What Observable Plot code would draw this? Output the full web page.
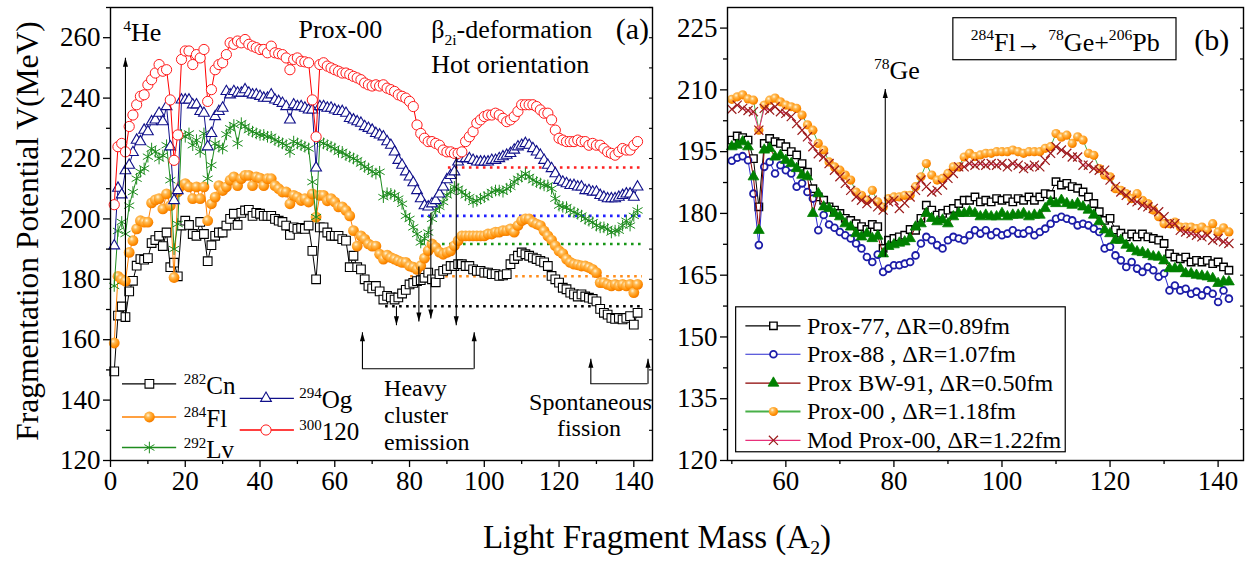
<!DOCTYPE html>
<html>
<head>
<meta charset="utf-8">
<script src="https://cdn.jsdelivr.net/npm/d3@7"></script>
<script src="https://cdn.jsdelivr.net/npm/@observablehq/plot@0.6"></script>
<style>
html,body{margin:0;padding:0;background:#fff;}
#chart{position:relative;width:1250px;height:561px;overflow:hidden;font-family:"Liberation Serif","Times New Roman",serif;color:#000;background:#fff;}
#pa,#pb{position:absolute;top:0;}
#pa{left:0;}
#pb{left:660px;}
#ytitle{position:absolute;left:-202px;top:214px;width:460px;height:34px;line-height:34px;font-size:31.5px;text-align:center;transform:rotate(-90deg);white-space:nowrap;}
#xtitle{position:absolute;left:0;width:1314px;top:520px;font-size:33px;line-height:34px;text-align:center;white-space:nowrap;}
#xtitle sub{font-size:0.6em;vertical-align:-0.3em;}
</style>
</head>
<body>
<div id="chart">
  <div id="pa"></div>
  <div id="pb"></div>
  <div id="ytitle">Fragmentation Potential V(MeV)</div>
  <div id="xtitle">Light Fragment Mass (A<sub>2</sub>)</div>
</div>
<script>
// ================= DATA =================
// Panel (a): light fragment mass A2 = 1..141
const massA = d3.range(1, 142);
const cn282 = [
149.5,168,171,167.5,176,179.5,184.5,186.7,186.5,187,
192,193,194.4,191,195.5,184,185.5,181,197.8,199.4,
198,195,194.4,199,195,186,191.3,194.4,195.5,195.5,
197.8,200,201.7,198,202,202.8,203,201,202,201.7,
201,201,201,200,199.4,199,197.8,194.7,197.2,196.7,
197,196.7,197.8,189.4,180,197.2,197.2,195.5,194.4,194.4,
194.4,193.3,192.8,184,187.8,184,183.3,180,177.8,177,
177.8,176,173.3,174.5,174,173.3,174,175.3,176.5,178.3,
178.8,179.4,179.7,180.5,182.2,180,179,181.7,182.8,183.3,
184.4,184.4,185,185,184.4,184.4,183.3,182.8,182.8,182.2,
182.2,181.7,181.7,181.1,181.3,181.7,185,186.7,187.8,188.9,
188.3,187.8,187.2,186.7,186.1,185.6,184.4,181.1,180,178.9,
177.2,176.7,175.6,175,174.3,175,174.3,173.9,173.5,172.7,
170.2,168.9,168.3,167.2,166.9,167.2,166.7,167.2,167.8,165,
168.9];
const fl284 = [
158.9,181,180,179.4,188.9,192.8,196.7,199.4,198.9,198.9,
205.3,206.3,206.7,203.3,208.3,204.4,180.6,208.9,211,211.7,
210.6,206.7,210.6,206.7,210.6,199.4,205,207.2,211,209.4,
210.6,212.8,213.9,211,213.3,214.4,214.4,211,213.9,213.5,
211,213.3,213.3,211,210,208.9,208.9,205,207.8,207.2,
206.1,206.7,205.6,208.3,200.6,207.8,207.8,206,206.7,205.6,
204,204,202.8,201,196.1,191,194.4,193.3,191.7,191,
191,188.3,186.7,188,187.2,186.7,186.1,185.6,185.6,184.4,
184,183.3,184.5,187,189.5,191.7,190.6,189,188.3,188.9,
189.4,191.1,192.8,194.4,194.4,194.4,194.4,194.4,194.4,194.4,
195,195,195.6,195.6,196.1,196.1,196.7,195.6,197.8,199.4,
200,200,198.9,198.3,197.8,196,194.4,193,191.1,189.4,
188.5,186.7,185.6,185,184.8,184.4,184.4,183.9,183.3,182.2,
178.9,178.9,178.3,177.8,178.3,177.8,178.3,177.8,178.3,175.6,
178.3];
const lv292 = [
177.8,196,199,195,204.4,208.9,213.3,215.6,216.7,220.6,
223.3,222.2,220,221,224.4,212.8,190,198.3,227.8,227.2,
228.3,224.4,226.1,222.2,228.3,213.3,217.8,225,223.9,223.3,
228,230,231.1,225,231.7,230.6,229.4,228.9,228.3,227.8,
227.8,227.2,227.2,226.1,225.6,225,224.4,222.2,225.6,225,
224.4,223.9,223.3,212.2,200.6,225.6,225,224.4,223.9,223.3,
222.2,222.2,221.1,220.6,220,219.4,218.3,217.2,216.7,215.6,
215,215.6,207.2,208.5,208.3,207.8,206.7,205,201,200,
197.2,195,192.2,193.5,195.5,200,202.8,204,205.6,207.8,
209,210.6,210,208.9,207.8,207.2,205.6,206,206.7,207.2,
208,208.9,209.4,209.4,209,210,210.6,212.2,213.3,214,
215,213.9,212.8,212.2,211.7,211.1,211.1,210,206.7,204.4,
204,203.9,202.8,202.2,201.7,201.1,200,199.4,198.9,197.8,
197.2,197.2,196.7,195.5,196.1,196.1,197.8,199.4,197.8,201,
202.8];
const og294 = [
191.1,210.2,208,216,217.8,222,226.1,225.6,229.4,228.9,
232.2,232.8,235,232.2,237.2,223.9,206.1,209.4,239.4,239.4,
239.4,237.8,237.8,235.6,235,223.9,228.3,233.9,235.6,236.7,
242.2,241.1,242.2,241.7,241.7,242.8,241.7,241.1,241.1,240.6,
240,240,241.1,239.4,238.9,238.3,237.2,232.8,237.8,237.2,
237.2,236.7,236.1,236.1,216.9,237.2,237.2,236.7,236.7,236.1,
235.6,235.6,235,233.3,232.8,232.2,231.7,230.6,230,229.4,
228.3,227.8,227.2,225.6,224.4,222.2,219.4,217.8,215.6,213.9,
212,209.4,206.7,204.4,204,205,206.1,208.3,210.6,213,
214.4,215.6,218.9,220,220,220,219.4,218.9,218.9,218.9,
218.9,219.4,219.4,220,220.6,221.1,221.7,222.8,223.9,224.4,
225,224.4,223.3,222.2,221.1,219.4,217.8,216.7,215,212.8,
212.2,211.7,211.1,211.1,210.6,210.6,209.4,209.4,208.9,208.9,
207.8,207.2,206.7,206.7,206.7,207.2,207.8,208.3,208.3,207.2,
210.6];
const e300 = [
204.7,223.9,225,222.2,230.6,234.4,237.8,240.6,241.1,244.4,
246.1,248.3,251.1,248.9,249.4,239.4,219.4,227.8,252.8,255.6,
255.6,251.1,254.4,253.3,256.1,238.9,242.8,249.4,251.1,251.7,
254.4,258.3,257.8,258.9,258.3,259.4,257.8,257.2,256.7,256.1,
256.1,255,257.2,255,254.7,254.4,253.3,249.4,252.8,253.3,
252.2,252,251.7,239.4,227.2,251.1,251.7,250.6,250,249.4,
248.9,248.3,248.3,247.8,247.2,246.7,246.1,245,244.4,244,
244.4,244,244.4,243.3,242.8,242.2,241.1,240.6,240,238.9,
237.2,231.1,228.3,226.7,225.6,225.6,225,224.4,222.8,222.2,
222.2,221.7,221.7,222.2,225.6,227.2,228.9,231.7,232.8,233.9,
234.4,234.4,235,234.4,233.3,232.2,232.8,233.9,235.6,237.8,
237.8,237.8,237.8,237.2,236.1,235,235,232.8,229.4,226.7,
226.1,225.6,225.6,225.6,226.1,225.6,225.6,224.4,225,224.4,
224.4,223.3,222.2,221.7,221.1,222.2,223.3,222.8,222.8,224.4,
225.6];
// minima reference levels (dotted lines) in panel (a): value, from A, to A
const minLevels = [
  {key:"e120", v:217.0, from:90.4, to:142.3},
  {key:"og",   v:201.0, from:83.2, to:142.3},
  {key:"lv",   v:191.7, from:83.2, to:142.3},
  {key:"fl",   v:181.0, from:80.3, to:142.3},
  {key:"cn",   v:171.1, from:73.6, to:142.3}
];

// Panel (b): 284Fl, light fragment mass A2 = 50..142
const massB = d3.range(50, 143);
const prox77 = [
197.8,198.8,198.4,197.8,193.3,181.6,197,198.2,197.4,197,
196.2,195,194.2,192.1,190,186,184,183.2,181.6,180.8,
180,178.8,178.3,177.5,176.8,176.1,177.3,176.8,171.5,173.5,
173.9,174.3,174.7,176.1,175.9,178.8,182,180.8,179.6,180,
180.8,181.2,182.4,183.2,183.2,184,182.8,183.2,182.8,183.6,
183.2,183.6,182.8,183.6,183.2,184,183.2,184,184.8,184.6,
187.7,186.9,187.3,186.5,186.1,185.2,184,182.4,180.4,178.3,
178.8,176,175.2,174.3,175,174.3,175,174.3,173.9,173.5,
172.7,170.2,169.4,169,169.4,168.2,168.6,168.2,168.6,167.8,
168.2,167,166.2];
const prox88 = [
192.8,193.5,193.9,192.9,184.8,172.3,191.3,192.5,189.7,191.7,
190.5,189.7,186.5,187.3,185.2,183.6,175.9,179.6,177.3,176.5,
175.5,174.7,173.9,172.7,171.5,169.4,168.2,170,165.8,166.6,
167.4,167.4,167.8,168.2,169.8,172.7,174.3,173.5,172.3,171.5,
173.5,174.3,173.9,173.5,174.7,175.9,175.1,175.9,174.7,175.5,
174.7,175.1,175.9,175.1,175.1,175.9,174.7,175.5,176.3,177.5,
178.7,179.2,178.7,178.3,177.1,177.5,177.1,176.3,175.5,171.5,
171.9,169.8,168.6,167,168.2,166.6,165.8,167,166.2,164.6,
165.4,161.3,162.5,161.3,161.7,160.5,161,160.1,161.3,160.5,
158.5,161.3,159.3];
const bw91 = [
196.2,196.6,197.4,196.2,188.9,175.9,195.4,195.8,193.7,194.1,
192.9,192.1,190.9,189.3,188.9,180,184.8,181.6,181.2,180,
179.2,177.5,176.7,175.1,174.3,175.1,173.9,174.5,170.2,172,
172.4,172.8,173.1,173.9,176.7,177.5,180,178.8,178,178.4,
177.5,179.2,180,180,180.4,180,179.2,179.6,179.2,179.2,
180,179.2,179.6,179.6,180,179.2,179.6,179.6,181.2,182.8,
182.4,183.2,182.4,182,182.4,181.6,180.8,179.6,178,176,
175.1,173.5,173.5,172.3,171.5,170.7,170.5,170,169.5,169.4,
168.5,166.6,166.6,166.6,165.4,165.4,165,164.8,164.6,164.2,
163,163.4,163.4];
const prox00 = [
207.7,208.3,208.8,207.8,207.5,200.2,206.3,207.5,208,207.1,
206.3,205.9,205.5,203.9,201.5,200.2,197,195.4,192.5,191.3,
190.5,189.3,188.1,185.2,184.4,183.2,185.6,182.8,181.5,183.6,
184,184,184.4,184.4,186.5,188.9,192.1,189.3,188.1,188.5,
189.7,191.3,191.3,193.7,194.6,193.8,194.2,194.6,194.6,195,
195,195,195.4,195,194.6,195,195,195,195.8,196.2,
199.4,198.5,199,197,198.6,197.8,194.6,194.1,190.9,189.3,
188.9,186,185.6,184.8,183.6,184.8,183.2,182.4,180.8,179.2,
177.5,177.5,177.9,176.7,176.7,176.7,176.3,176.7,175.9,177.5,
175.5,176.5,175.5];
const modProx00 = [
205.3,206.3,205.5,205,204.7,200.2,205.5,205.1,205.9,204.7,
204.3,203.5,201.8,200.2,198.6,196.2,194.5,193.7,192.1,190.5,
188.9,187.3,185.6,184,183.2,182.4,183.2,181.6,180.8,182.8,
183.2,181.2,182.5,184,185.6,188.1,186.5,185.2,185.6,186.9,
188.5,189.7,191.3,191.3,192.1,191.7,192.1,191.7,192.1,191.7,
192.1,191.3,192.1,191.7,190.9,191.3,191.7,191.3,192.9,194.6,
196.2,195.4,194.6,193.7,193.7,191.7,191.7,190.9,190.5,190.5,
188.1,186.5,185.2,184.4,183.2,182.8,182,181.6,181.2,180.4,
179.2,177.5,177.5,175.9,175.5,175.1,174.7,174.3,174.7,173.5,
173.9,173.1,172.7];

// Tick values
const ticksAx = [0,20,40,60,80,100,120,140];
const minorAx = [10,30,50,70,90,110,130];
const ticksAy = [120,140,160,180,200,220,240,260];
const minorAy = [130,150,170,190,210,230,250,270];
const ticksBx = [60,80,100,120,140];
const minorBx = [50,70,90,110,130];
const ticksBy = [120,135,150,165,180,195,210,225];
const minorBy = [127.5,142.5,157.5,172.5,187.5,202.5,217.5];

// Labels
const namesA = {cn:"^{282}Cn", fl:"^{284}Fl", lv:"^{292}Lv", og:"^{294}Og", e120:"^{300}120"};
const namesB = {p77:"Prox-77, ΔR=0.89fm", p88:"Prox-88 , ΔR=1.07fm", bw:"Prox BW-91, ΔR=0.50fm", p00:"Prox-00 , ΔR=1.18fm", mod:"Mod Prox-00, ΔR=1.22fm"};

// ================= STYLES & LAYOUT (not data) =================
const FONT = '"Liberation Serif","Times New Roman",serif';
const styleA = {
  cn:  {line:"#000000", symbol:"square",   r:4.9, fill:"#ffffff", stroke:"#000000", sw:1.1},
  fl:  {line:"#ff8000", symbol:"circle",   r:5.4, fill:"url(#ballA)", stroke:"none", sw:0},
  lv:  {line:"#1e8c1e", symbol:"asterisk", r:5.5, fill:"none", stroke:"#1e8c1e", sw:1},
  og:  {line:"#10108a", symbol:"triangle", r:4.0, fill:"#ffffff", stroke:"#10108a", sw:1.1},
  e120:{line:"#ff0000", symbol:"circle",   r:5.1, fill:"#ffffff", stroke:"#ff1a1a", sw:1}
};
const dotColor = {e120:"#ff2020", og:"#2020ff", lv:"#169616", fl:"#ff8c1a", cn:"#000000"};
const styleB = {
  p77:{line:"#000000", symbol:"square",   r:4.2, fill:"#ffffff", stroke:"#000000", sw:1.4},
  p88:{line:"#2a2ad0", symbol:"circle",   r:3.4, fill:"#ffffff", stroke:"#1c1ca8", sw:1.8},
  bw: {line:"#8b0000", symbol:"triangle", r:4.0, fill:"#008000", stroke:"#008000", sw:0.8},
  p00:{line:"#48b048", symbol:"circle",   r:4.6, fill:"url(#ballB)", stroke:"none", sw:0},
  mod:{line:"#e8307a", symbol:"times",    r:4.2, fill:"none", stroke:"#9b1b1b", sw:1.2}
};

// annotation layout (data coordinates)
const legendA = [
  {key:"cn", y:145.4, col:0}, {key:"fl", y:134.4, col:0}, {key:"lv", y:124.3, col:0},
  {key:"og", y:140.6, col:1}, {key:"e120", y:130.1, col:1}
];
const legendColsA = [{x1:3.2, x2:17.7, xm:10.4, tx:19.6}, {x1:34.7, x2:49.2, xm:41.6, tx:50.5}];
const arrowsA = [
  {x:4,     y1:166,   y2:253.4, up:true},
  {x:76.5,  y1:171.1, y2:164.8, up:false},
  {x:82.5,  y1:184.2, y2:166,   up:false},
  {x:85.7,  y1:202,   y2:167,   up:false},
  {x:92.5,  y1:220.6, y2:164.8, up:false},
  {x:67.4,  y1:150.4, y2:162.5, up:true},
  {x:97.3,  y1:150.4, y2:162.5, up:true},
  {x:128.5, y1:145.4, y2:153.7, up:true},
  {x:143.8, y1:145.4, y2:153.7, up:true}
];
const bracketsA = [{x1:67.4, x2:97.3, y:150.4}, {x1:128.5, x2:143.8, y:145.4}];
const textsA = [
  {x:3.4,   y:261.5, t:"^{4}He", a:"start", s:26},
  {x:61.5,  y:262.8, t:"Prox-00", a:"middle", s:26},
  {x:85.8,  y:262.8, t:"β_{2i}-deformation", a:"start", s:26},
  {x:85.8,  y:251.2, t:"Hot orientation", a:"start", s:26},
  {x:139.6, y:262.8, t:"(a)", a:"middle", s:30},
  {x:73.2,  y:143.8, t:"Heavy", a:"start", s:24},
  {x:73.2,  y:134.9, t:"cluster", a:"start", s:24},
  {x:73.2,  y:126.1, t:"emission", a:"start", s:24},
  {x:128.4, y:139.3, t:"Spontaneous", a:"middle", s:24},
  {x:128.0, y:130.5, t:"fission", a:"middle", s:24}
];
const legendB = [
  {key:"p77", y:152.7}, {key:"p88", y:145.8}, {key:"bw", y:138.8}, {key:"p00", y:131.9}, {key:"mod", y:124.9}
];
const legendBoxB = {x1:50.8, x2:111.8, y1:122.0, y2:157.2};
const legendColB = {x1:52.6, x2:62.8, xm:57.7, tx:63.9};
const titleBoxB = {x1:91, x2:132.3, y1:217.2, y2:227.4, tx:111.7, ty:222, t:"^{284}Fl→ ^{78}Ge+^{206}Pb"};
const arrowsB = [{x:78.4, y1:169.5, y2:210.2, up:true}];
const textsB = [
  {x:76.3,  y:214.6, t:"^{78}Ge", a:"start", s:26},
  {x:138.8, y:222.0, t:"(b)", a:"middle", s:30}
];

// ================= HELPERS =================
const pts = (xs, ys) => xs.map((x, i) => ({x, y: ys[i]}));
const arrowHead = {
  draw(ctx, size) {
    const h = Math.sqrt(size) * 1.7, w = h * 0.28;
    ctx.moveTo(0, 0); ctx.lineTo(-w, h); ctx.lineTo(w, h); ctx.closePath();
  }
};
function seriesMarks(data, st) {
  return [
    Plot.line(data, {x:"x", y:"y", stroke: st.line, strokeWidth: 1}),
    Plot.dot(data, {x:"x", y:"y", symbol: st.symbol, r: st.r, fill: st.fill, stroke: st.stroke, strokeWidth: st.sw})
  ];
}
function arrowMarks(arr) {
  return [
    Plot.link(arr, {x1:"x", x2:"x", y1:"y1", y2:"y2", stroke:"#000", strokeWidth:1.1}),
    Plot.dot(arr.filter(d => d.up), {x:"x", y:"y2", symbol: arrowHead, r:3, fill:"#000", stroke:"none"}),
    Plot.dot(arr.filter(d => !d.up), {x:"x", y:"y2", symbol: arrowHead, r:3, fill:"#000", stroke:"none", rotate:180})
  ];
}
function textMarks(arr) {
  return arr.map(d => Plot.text([d], {x:"x", y:"y", text:"t", textAnchor:d.a, fontSize:d.s, fill:"#000"}));
}
function axesMarks(tx, mx, ty, my) {
  return [
    Plot.axisX({ticks: tx, tickSize: 7, tickPadding: 3, fontSize: 27, label: null, strokeWidth: 1.3}),
    Plot.axisX({ticks: mx, tickSize: 4, tickFormat: () => "", label: null, strokeWidth: 1.3}),
    Plot.axisY({ticks: ty, tickSize: 7, tickPadding: 3, fontSize: 27, label: null, strokeWidth: 1.3}),
    Plot.axisY({ticks: my, tickSize: 4, tickFormat: () => "", label: null, strokeWidth: 1.3}),
    Plot.axisY({anchor: "right", ticks: ty.concat(my), tickSize: -4, tickFormat: () => "", label: null, strokeWidth: 1.1}),
    Plot.frame({stroke: "#000", strokeWidth: 1.4})
  ];
}
function addBall(svg, id) {
  const ns = "http://www.w3.org/2000/svg";
  const defs = document.createElementNS(ns, "defs");
  defs.innerHTML = `<radialGradient id="${id}" cx="0.38" cy="0.34" r="0.72">
    <stop offset="0" stop-color="#fff6dc"/><stop offset="0.28" stop-color="#ffbb55"/>
    <stop offset="0.75" stop-color="#ff8c00"/><stop offset="1" stop-color="#e87000"/></radialGradient>`;
  svg.insertBefore(defs, svg.firstChild);
}
function richify(svg) {
  const ns = "http://www.w3.org/2000/svg";
  for (const el of svg.querySelectorAll("text")) {
    const s = el.textContent;
    if (!/[\^_]\{/.test(s)) continue;
    const fs = parseFloat(getComputedStyle(el).fontSize) || 24;
    while (el.firstChild) el.removeChild(el.firstChild);
    const re = /([\^_])\{([^}]*)\}/g;
    let last = 0, m, cur = 0;
    const add = (txt, off, small) => {
      if (!txt) return;
      const t = document.createElementNS(ns, "tspan");
      t.textContent = txt;
      if (small) t.setAttribute("font-size", (fs * 0.6).toFixed(1));
      const dy = off - cur;
      if (dy) t.setAttribute("dy", dy.toFixed(1));
      cur = off;
      el.appendChild(t);
    };
    while ((m = re.exec(s))) {
      add(s.slice(last, m.index), 0, false);
      add(m[2], m[1] === "^" ? -fs * 0.4 : fs * 0.28, true);
      last = re.lastIndex;
    }
    add(s.slice(last), 0, false);
  }
}

// ================= PANEL (a) =================
const dataA = {cn: pts(massA, cn282), fl: pts(massA, fl284), lv: pts(massA, lv292), og: pts(massA, og294), e120: pts(massA, e300)};
const legRowsA = legendA.map(d => ({...d, ...legendColsA[d.col], label: namesA[d.key]}));

const marksA = [
  ...minLevels.map(d => Plot.ruleY([d], {y:"v", x1:"from", x2:"to", stroke: dotColor[d.key], strokeWidth: 2.6, strokeDasharray: "2.6 4.4"})),
  ...["cn", "fl", "lv", "og", "e120"].flatMap(k => seriesMarks(dataA[k], styleA[k])),
  ...arrowMarks(arrowsA),
  Plot.ruleY(bracketsA, {y:"y", x1:"x1", x2:"x2", stroke:"#000", strokeWidth:1.1}),
  ...textMarks(textsA),
  ...legRowsA.flatMap(d => [
    Plot.ruleY([d], {y:"y", x1:"x1", x2:"x2", stroke: styleA[d.key].line, strokeWidth: 1.3}),
    Plot.dot([d], {x:"xm", y:"y", symbol: styleA[d.key].symbol, r: styleA[d.key].r, fill: styleA[d.key].fill, stroke: styleA[d.key].stroke, strokeWidth: styleA[d.key].sw}),
    Plot.text([d], {x:"tx", y:"y", text:"label", textAnchor:"start", fontSize:25, dy:2, fill:"#000"})
  ]),
  ...axesMarks(ticksAx, minorAx, ticksAy, minorAy)
];

const svgA = Plot.plot({
  width: 655, height: 500,
  marginLeft: 110, marginRight: 3, marginTop: 7, marginBottom: 40,
  style: {fontFamily: FONT, background: "transparent", overflow: "visible", color: "#000"},
  x: {domain: [0, 145], label: null},
  y: {domain: [120, 270], label: null},
  marks: marksA
});
document.getElementById("pa").appendChild(svgA);
addBall(svgA, "ballA");
richify(svgA);

// ================= PANEL (b) =================
const dataB = {p77: pts(massB, prox77), p88: pts(massB, prox88), bw: pts(massB, bw91), p00: pts(massB, prox00), mod: pts(massB, modProx00)};
const legRowsB = legendB.map(d => ({...d, ...legendColB, label: namesB[d.key]}));

const marksB = [
  ...["p77", "p88", "bw", "p00", "mod"].flatMap(k => seriesMarks(dataB[k], styleB[k])),
  ...arrowMarks(arrowsB),
  ...textMarks(textsB),
  Plot.rect([titleBoxB], {x1:"x1", x2:"x2", y1:"y1", y2:"y2", fill:"#fff", stroke:"#000", strokeWidth:1.2}),
  Plot.text([titleBoxB], {x:"tx", y:"ty", text:"t", fontSize:26, fill:"#000", dy:2}),
  Plot.rect([legendBoxB], {x1:"x1", x2:"x2", y1:"y1", y2:"y2", fill:"#fff", stroke:"#000", strokeWidth:1.2}),
  ...legRowsB.flatMap(d => [
    Plot.ruleY([d], {y:"y", x1:"x1", x2:"x2", stroke: styleB[d.key].line, strokeWidth: d.key === "p00" ? 2 : 1.2}),
    Plot.dot([d], {x:"xm", y:"y", symbol: styleB[d.key].symbol, r: styleB[d.key].r, fill: styleB[d.key].fill, stroke: styleB[d.key].stroke, strokeWidth: styleB[d.key].sw}),
    Plot.text([d], {x:"tx", y:"y", text:"label", textAnchor:"start", fontSize:24, fill:"#000"})
  ]),
  ...axesMarks(ticksBx, minorBx, ticksBy, minorBy)
];

const svgB = Plot.plot({
  width: 590, height: 500,
  marginLeft: 67, marginRight: 7, marginTop: 7, marginBottom: 40,
  style: {fontFamily: FONT, background: "transparent", overflow: "visible", color: "#000"},
  x: {domain: [49.2, 144.7], label: null},
  y: {domain: [120, 230], label: null},
  marks: marksB
});
document.getElementById("pb").appendChild(svgB);
addBall(svgB, "ballB");
richify(svgB);
</script>
</body>
</html>
